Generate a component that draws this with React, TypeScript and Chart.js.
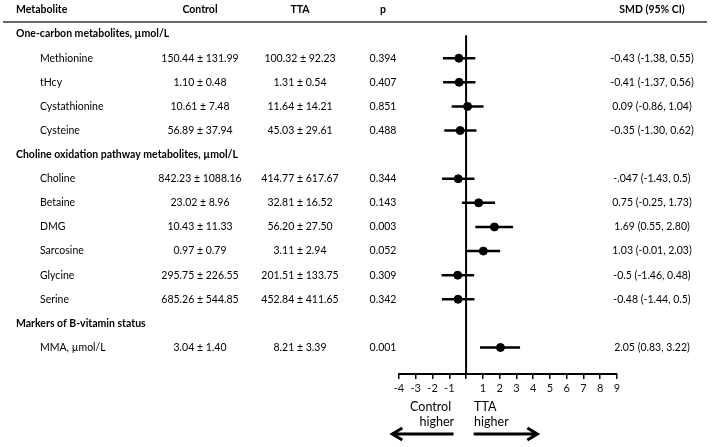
import React, { useEffect, useRef } from "react";
import { Chart, registerables } from "chart.js";

Chart.register(...registerables);

// ---- data ----
const groupTitles = [
  "One-carbon metabolites, µmol/L",
  "Choline oxidation pathway metabolites, µmol/L",
  "Markers of B-vitamin status",
];
const metabolites = [
  "Methionine", "tHcy", "Cystathionine", "Cysteine",
  "Choline", "Betaine", "DMG", "Sarcosine", "Glycine", "Serine",
  "MMA, µmol/L",
];
const groupOf = [0, 0, 0, 0, 1, 1, 1, 1, 1, 1, 2];
const controlValues = [
  "150.44 ± 131.99", "1.10 ± 0.48", "10.61 ± 7.48", "56.89 ± 37.94",
  "842.23 ± 1088.16", "23.02 ± 8.96", "10.43 ± 11.33", "0.97 ± 0.79", "295.75 ± 226.55", "685.26 ± 544.85",
  "3.04 ± 1.40",
];
const ttaValues = [
  "100.32 ± 92.23", "1.31 ± 0.54", "11.64 ± 14.21", "45.03 ± 29.61",
  "414.77 ± 617.67", "32.81 ± 16.52", "56.20 ± 27.50", "3.11 ± 2.94", "201.51 ± 133.75", "452.84 ± 411.65",
  "8.21 ± 3.39",
];
const pValues = [
  "0.394", "0.407", "0.851", "0.488",
  "0.344", "0.143", "0.003", "0.052", "0.309", "0.342",
  "0.001",
];
const smd = [-0.43, -0.41, 0.09, -0.35, -0.47, 0.75, 1.69, 1.03, -0.5, -0.48, 2.05];
const ciLow = [-1.38, -1.37, -0.86, -1.3, -1.43, -0.25, 0.55, -0.01, -1.46, -1.44, 0.83];
const ciHigh = [0.55, 0.56, 1.04, 0.62, 0.5, 1.73, 2.8, 2.03, 0.48, 0.5, 3.22];
const smdLabels = [
  "-0.43 (-1.38, 0.55)", "-0.41 (-1.37, 0.56)", "0.09 (-0.86, 1.04)", "-0.35 (-1.30, 0.62)",
  "-.047 (-1.43, 0.5)", "0.75 (-0.25, 1.73)", "1.69 (0.55, 2.80)", "1.03 (-0.01, 2.03)", "-0.5 (-1.46, 0.48)", "-0.48 (-1.44, 0.5)",
  "2.05 (0.83, 3.22)",
];
const headers = ["Metabolite", "Control", "TTA", "p", "SMD (95% CI)"];
const xTicks = [-4, -3, -2, -1, 0, 1, 2, 3, 4, 5, 6, 7, 8, 9];

// row indices (0 = header row)
const groupRow: number[] = [];
const metaRow: number[] = [];
{
  let r = 1;
  let g = -1;
  metabolites.forEach((_, i) => {
    if (groupOf[i] !== g) {
      g = groupOf[i];
      groupRow[g] = r++;
    }
    metaRow[i] = r++;
  });
}

const FONT = "Lato, 'Open Sans', sans-serif";

const tablePlugin = {
  id: "forestTable",
  beforeDatasetsDraw(chart: any) {
    const { ctx, scales } = chart;
    const xs = scales.x;
    const ys = scales.y;
    ctx.save();
    ctx.strokeStyle = "#000";
    // zero line
    ctx.lineWidth = 2;
    const x0 = xs.getPixelForValue(0);
    ctx.beginPath();
    ctx.moveTo(x0, ys.getPixelForValue(1.05));
    ctx.lineTo(x0, ys.getPixelForValue(ys.max));
    ctx.stroke();
    // CI bars
    ctx.lineWidth = 2.5;
    metabolites.forEach((_, i) => {
      const y = ys.getPixelForValue(metaRow[i]);
      ctx.beginPath();
      ctx.moveTo(xs.getPixelForValue(ciLow[i]), y);
      ctx.lineTo(xs.getPixelForValue(ciHigh[i]), y);
      ctx.stroke();
    });
    ctx.restore();
  },
  afterDraw(chart: any) {
    const { ctx, scales } = chart;
    const xs = scales.x;
    const ys = scales.y;
    const W = chart.width;
    ctx.save();
    ctx.fillStyle = "#000";
    ctx.textBaseline = "middle";
    const colX = [16, 200, 300, 383, 652];
    // header
    ctx.font = `bold 10.5px ${FONT}`;
    const yh = ys.getPixelForValue(0);
    headers.forEach((h, i) => {
      ctx.textAlign = i === 0 ? "left" : "center";
      ctx.fillText(h, colX[i], yh);
    });
    // rule
    ctx.strokeStyle = "#333";
    ctx.lineWidth = 1.5;
    ctx.beginPath();
    ctx.moveTo(3, yh + 12);
    ctx.lineTo(W - 6, yh + 12);
    ctx.stroke();
    // groups
    groupTitles.forEach((g, gi) => {
      ctx.font = `bold 10.5px ${FONT}`;
      ctx.textAlign = "left";
      ctx.fillText(g, 16, ys.getPixelForValue(groupRow[gi]));
    });
    ctx.font = `10.5px ${FONT}`;
    metabolites.forEach((m, i) => {
      const y = ys.getPixelForValue(metaRow[i]);
      ctx.textAlign = "left";
      ctx.fillText(m, 40, y);
      ctx.textAlign = "center";
      ctx.fillText(controlValues[i], colX[1], y);
      ctx.fillText(ttaValues[i], colX[2], y);
      ctx.fillText(pValues[i], colX[3], y);
      ctx.fillText(smdLabels[i], colX[4], y);
    });
    // direction labels and arrows
    const x0 = xs.getPixelForValue(0);
    const yb = ys.getPixelForValue(ys.max);
    ctx.font = `12.5px ${FONT}`;
    ctx.textAlign = "right";
    ctx.fillText("Control", x0 - 15, yb + 33);
    ctx.fillText("higher", x0 - 12, yb + 48);
    ctx.textAlign = "left";
    ctx.fillText("TTA", x0 + 8, yb + 33);
    ctx.fillText("higher", x0 + 8, yb + 48);
    ctx.strokeStyle = "#000";
    ctx.lineWidth = 3;
    const ya = yb + 60;
    const la = xs.getPixelForValue(-4.4);
    const lb = xs.getPixelForValue(-0.75);
    const ra = xs.getPixelForValue(0.45);
    const rb = xs.getPixelForValue(4.25);
    ctx.beginPath();
    ctx.moveTo(lb, ya);
    ctx.lineTo(la, ya);
    ctx.moveTo(la + 10, ya - 6);
    ctx.lineTo(la, ya);
    ctx.lineTo(la + 10, ya + 6);
    ctx.moveTo(ra, ya);
    ctx.lineTo(rb, ya);
    ctx.moveTo(rb - 10, ya - 6);
    ctx.lineTo(rb, ya);
    ctx.lineTo(rb - 10, ya + 6);
    ctx.stroke();
    ctx.restore();
  },
};

export default function App() {
  const ref = useRef<HTMLCanvasElement | null>(null);
  useEffect(() => {
    if (!ref.current) return;
    const chart = new Chart(ref.current, {
      type: "scatter",
      data: {
        datasets: [
          {
            data: smd.map((v, i) => ({ x: v, y: metaRow[i] })),
            backgroundColor: "#000",
            borderColor: "#000",
            pointRadius: 4,
            pointHoverRadius: 4,
          },
        ],
      },
      options: {
        responsive: false,
        animation: false,
        events: [],
        layout: { padding: { left: 399, right: 96, top: 10, bottom: 0 } },
        plugins: { legend: { display: false }, tooltip: { enabled: false } },
        scales: {
          x: {
            type: "linear",
            min: -4,
            max: 9,
            afterBuildTicks: (s: any) => {
              s.ticks = xTicks.map((v) => ({ value: v }));
            },
            afterFit: (s: any) => {
              s.height = 73;
            },
            border: { color: "#000", width: 2 },
            grid: { drawOnChartArea: false, drawTicks: true, tickLength: 5, color: "#000", lineWidth: 1.5 },
            ticks: {
              padding: 3,
              color: "#111",
              font: { family: FONT, size: 11 },
              maxRotation: 0,
              autoSkip: false,
              callback: (v: any) => (v === 0 ? "" : String(v)),
            },
          },
          y: {
            type: "linear",
            display: false,
            reverse: true,
            min: 0,
            max: 15.1,
          },
        },
      },
      plugins: [tablePlugin],
    });
    return () => chart.destroy();
  }, []);
  return (
    <div style={{ position: "fixed", left: 0, top: 0, width: 713, height: 447, background: "#fff" }}>
      <canvas ref={ref} width={713} height={447} style={{ width: 713, height: 447 }} />
    </div>
  );
}
